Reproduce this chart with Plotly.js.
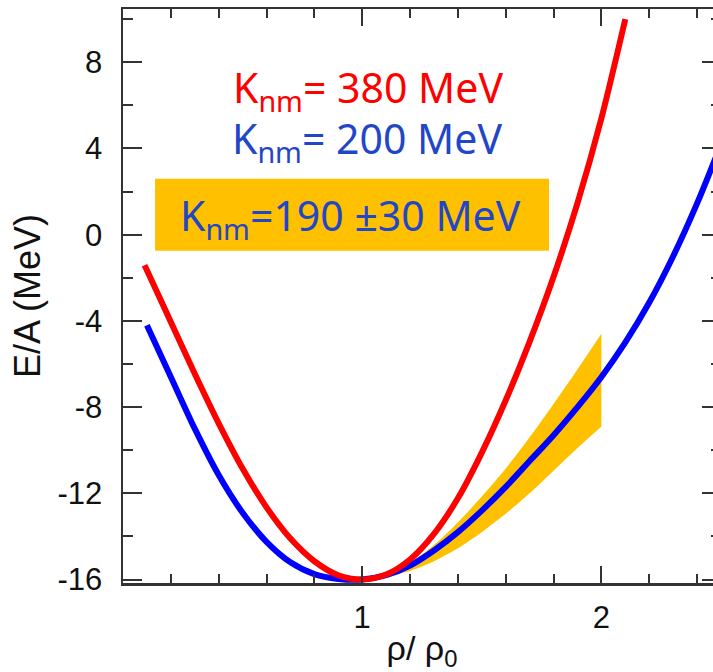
<!DOCTYPE html>
<html><head><meta charset="utf-8">
<script src="https://cdn.plot.ly/plotly-3.0.1.min.js"></script>
<style>html,body{margin:0;padding:0;overflow:hidden;background:#fff}#chart{width:731px;height:672px}</style>
</head><body><div id="chart"></div>
<script>
// K_nm = 380 MeV curve
const redX = [0.09, 0.1, 0.2, 0.3, 0.4, 0.5, 0.6, 0.7, 0.8, 0.9, 1.0, 1.1, 1.2, 1.3, 1.4, 1.5, 1.6, 1.7, 1.8, 1.9, 2.0, 2.1];
const redY = [-1.42, -1.65, -4.05, -6.45, -8.75, -10.85, -12.65, -14.1, -15.15, -15.8, -16.0, -15.77, -15.07, -13.88, -12.23, -10.11, -7.68, -4.96, -1.95, 1.46, 5.4, 10.0];
// K_nm = 200 MeV curve
const blueX = [0.1, 0.2, 0.3, 0.4, 0.5, 0.6, 0.7, 0.8, 0.9, 1.0, 1.1, 1.2, 1.3, 1.4, 1.5, 1.6, 1.7, 1.8, 1.9, 2.0, 2.1, 2.2, 2.3, 2.4, 2.5];
const blueY = [-4.2, -6.6, -9.0, -11.15, -12.9, -14.25, -15.2, -15.75, -15.97, -16.0, -15.8, -15.35, -14.65, -13.8, -12.8, -11.7, -10.5, -9.3, -8.0, -6.6, -5.0, -3.15, -1.0, 1.45, 4.2];
// K_nm = 190 +/- 30 MeV band
const bandX = [1.1, 1.2, 1.3, 1.4, 1.5, 1.6, 1.7, 1.8, 1.9, 2.0];
const bandUpper = [-15.8, -15.25, -14.4, -13.35, -12.15, -10.85, -9.4, -7.85, -6.25, -4.6];
const bandLower = [-15.85, -15.6, -15.15, -14.55, -13.8, -12.95, -12.0, -10.95, -9.9, -8.9];
// axis ticks
const xTickVals = [1, 2];
const xTickText = ['1', '2'];
const yTickVals = [-16, -12, -8, -4, 0, 4, 8];
const yTickText = ['-16', '-12', '-8', '-4', '0', '4', '8'];
// labels
const labelRed = 'K<sub>nm</sub>= 380 MeV';
const labelBlue = 'K<sub>nm</sub>= 200 MeV';
const labelBand = 'K<sub>nm</sub>=190 ±30 MeV';

const traces = [
  {x: bandX, y: bandLower, type: 'scatter', mode: 'lines',
   line: {width: 0, color: '#FFC000', shape: 'spline', smoothing: 0.8}, hoverinfo: 'skip'},
  {x: bandX, y: bandUpper, type: 'scatter', mode: 'lines', fill: 'tonexty',
   fillcolor: '#FFC000', line: {width: 0, color: '#FFC000', shape: 'spline', smoothing: 0.8}, hoverinfo: 'skip'},
  {x: blueX, y: blueY, type: 'scatter', mode: 'lines',
   line: {color: '#0000FF', width: 6, shape: 'spline', smoothing: 0.8}},
  {x: redX, y: redY, type: 'scatter', mode: 'lines',
   line: {color: '#FF0000', width: 6, shape: 'spline', smoothing: 0.8}}
];

const axColor = '#333333';
const tickFont = {family: 'Liberation Sans, Arial, sans-serif', size: 31, color: '#111111'};
const txtFont = 'Noto Sans, DejaVu Sans, sans-serif';

const layout = {
  width: 731, height: 672,
  margin: {l: 123, r: 10, t: 9, b: 89},
  paper_bgcolor: '#ffffff', plot_bgcolor: '#ffffff',
  showlegend: false,
  xaxis: {
    range: [0, 2.5], showline: true, linecolor: axColor, linewidth: 2.5, mirror: 'ticks',
    ticks: 'inside', ticklen: 17, tickwidth: 2, tickcolor: axColor,
    tickmode: 'array', tickvals: xTickVals, ticktext: xTickText,
    showgrid: false, zeroline: false, tickfont: tickFont, ticklabelstandoff: 5,
    minor: {dtick: 0.2, tick0: 0, ticks: 'inside', ticklen: 9, tickwidth: 2, tickcolor: axColor, showgrid: false},
    title: {text: 'ρ/ ρ<sub>0</sub>', font: {family: 'Liberation Sans, Arial, sans-serif', size: 34, color: '#111111'}, standoff: 4},
    automargin: false
  },
  yaxis: {
    range: [-16.16, 10.47], showline: true, linecolor: axColor, linewidth: 2.5, mirror: 'ticks',
    ticks: 'inside', ticklen: 19, tickwidth: 2, tickcolor: axColor,
    tickmode: 'array', tickvals: yTickVals, ticktext: yTickText,
    showgrid: false, zeroline: false, tickfont: tickFont, ticklabelstandoff: 12,
    minor: {dtick: 2, tick0: 0, ticks: 'inside', ticklen: 10, tickwidth: 2, tickcolor: axColor, showgrid: false},
    title: {text: 'E/A (MeV)', font: {family: 'Liberation Sans, Arial, sans-serif', size: 36, color: '#111111'}, standoff: 6},
    automargin: false
  },
  shapes: [
    {type: 'rect', xref: 'x', yref: 'y', x0: 0.134, x1: 1.781, y0: -0.74, y1: 2.6,
     fillcolor: '#FFC000', line: {width: 0}, layer: 'below'}
  ],
  annotations: [
    {xref: 'x', yref: 'y', x: 1.024, y: 6.73, text: labelRed, showarrow: false,
     xanchor: 'center', yanchor: 'middle', font: {family: txtFont, size: 41, color: '#FF0000'}},
    {xref: 'x', yref: 'y', x: 1.022, y: 4.38, text: labelBlue, showarrow: false,
     xanchor: 'center', yanchor: 'middle', font: {family: txtFont, size: 41, color: '#1F47C8'}},
    {xref: 'x', yref: 'y', x: 0.949, y: 0.8, text: labelBand, showarrow: false,
     xanchor: 'center', yanchor: 'middle', font: {family: txtFont, size: 41, color: '#1F47C8'}}
  ]
};

Plotly.newPlot('chart', traces, layout, {displayModeBar: false, staticPlot: true});
</script>
</body></html>
